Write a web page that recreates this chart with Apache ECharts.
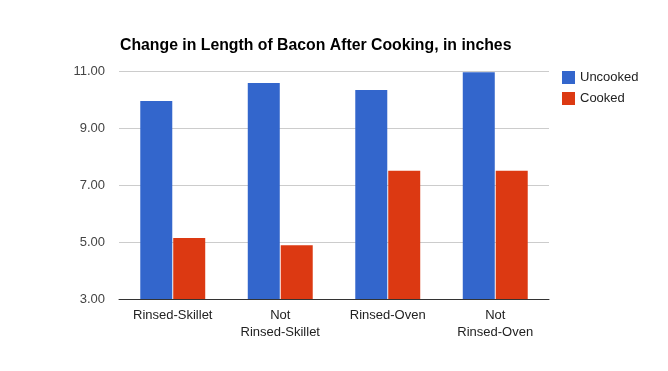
<!DOCTYPE html>
<html><head><meta charset="utf-8">
<script src="https://cdn.jsdelivr.net/npm/echarts@6/dist/echarts.min.js"></script>
<style>html,body{margin:0;padding:0;background:#fff}#c{width:668px;height:371px}</style>
</head><body><div id="c"></div>
<script>
var categories = ['Rinsed-Skillet', 'Not\nRinsed-Skillet', 'Rinsed-Oven', 'Not\nRinsed-Oven'];
var uncooked = [9.95, 10.58, 10.33, 10.96];
var cooked = [5.14, 4.89, 7.5, 7.5];
var yTicks = [3, 5, 7, 9, 11];
var chart = echarts.init(document.getElementById('c'));
chart.setOption({
  animation: false,
  backgroundColor: '#fff',
  title: {
    text: 'Change in Length of Bacon After Cooking, in inches',
    left: 115, top: 33,
    textStyle: {fontFamily: 'Liberation Sans, Arial', fontSize: 15.8, fontWeight: 'bold', color: '#000'}
  },
  legend: {
    orient: 'vertical', left: 557, top: 66,
    itemWidth: 13, itemHeight: 13, itemGap: 8, icon: 'rect',
    textStyle: {fontFamily: 'Liberation Sans, Arial', fontSize: 13, color: '#222'},
    data: ['Uncooked', 'Cooked']
  },
  grid: {left: 119, right: 119, top: 71, bottom: 72},
  xAxis: {
    type: 'category', data: categories,
    axisLine: {lineStyle: {color: '#333', width: 1}},
    axisTick: {show: false},
    axisLabel: {fontFamily: 'Liberation Sans, Arial', fontSize: 13, color: '#222', margin: 8, lineHeight: 17, interval: 0}
  },
  yAxis: {
    type: 'value', min: yTicks[0], max: yTicks[yTicks.length-1], interval: 2,
    axisLine: {show: false}, axisTick: {show: false},
    splitLine: {lineStyle: {color: '#ccc'}},
    axisLabel: {fontFamily: 'Liberation Sans, Arial', fontSize: 13, color: '#444', margin: 14,
      formatter: function(v){return v.toFixed(2);}}
  },
  series: [
    {name: 'Uncooked', type: 'bar', data: uncooked, itemStyle: {color: '#3366cc'}, barWidth: 32, barGap: '3%'},
    {name: 'Cooked', type: 'bar', data: cooked, itemStyle: {color: '#dc3912'}, barWidth: 32, barGap: '3%'}
  ]
});
</script></body></html>
